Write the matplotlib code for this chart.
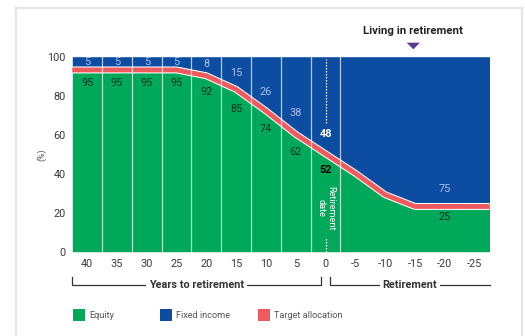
import matplotlib
matplotlib.use("Agg")
import matplotlib.pyplot as plt
import matplotlib.patheffects as pe
from matplotlib.patches import Rectangle, Polygon
from matplotlib.lines import Line2D
from matplotlib.transforms import blended_transform_factory

plt.rcParams["font.family"] = ["Roboto", "DejaVu Sans"]

# Glide path: years to retirement (negative = years after retirement)
years = [40, 35, 30, 25, 20, 15, 10, 5, 0, -5, -10, -15, -20, -25]
equity = [95, 95, 95, 95, 92, 85, 74, 62, 52, 42, 31, 25, 25, 25]
fixed_income = [5, 5, 5, 5, 8, 15, 26, 38, 48, 58, 69, 75, 75, 75]

# Which points carry value labels
labelled_years = [40, 35, 30, 25, 20, 15, 10, 5, 0, -20]
bold_label_years = [0]

# Label placement relative to the equity boundary (percentage points)
fi_label_offset = [2.5, 2.5, 2.5, 2.5, 4.3, 6.8, 8.1, 8.9, 8.2, 7.0]
eq_label_offset = [8.3, 8.3, 8.3, 8.3, 9.9, 11.6, 11.3, 11.1, 10.3, 7.3]

x_tick_values = [40, 35, 30, 25, 20, 15, 10, 5, 0, -5, -10, -15, -20, -25]
x_tick_labels = ["40", "35", "30", "25", "20", "15", "10", "5", "0",
                 "-5", "-10", "-15", "-20", "-25"]
y_tick_values = [0, 20, 40, 60, 80, 100]

GREEN = "#00a85a"
BLUE = "#0d4da1"
RED = "#ef5a5f"
PURPLE = "#5b3d8c"
EQ_TEXT = "#0c3326"
FI_TEXT = "#a9c3ec"
GREY_TEXT = "#3a3a3a"

W, H = 525, 336
fig = plt.figure(figsize=(W / 100, H / 100), dpi=100)
fig.patch.set_facecolor("white")


def fx(px):
    return px / W


def fy(py):
    return 1 - py / H


ax = fig.add_axes([fx(72.3), fy(251.7), fx(489.5) - fx(72.3), fy(56.7) - fy(251.7)])
x_left, x_right = 42.5, -27.5
ax.set_xlim(x_left, x_right)
ax.set_ylim(0, 100)

# Areas extend flat to the plot edges
xs = [x_left] + years + [x_right]
eq = [equity[0]] + equity + [equity[-1]]
ax.fill_between(xs, eq, 100, color=BLUE, lw=0, zorder=1)
ax.fill_between(xs, 0, eq, color=GREEN, lw=0, zorder=1)

# Target allocation band just beneath the boundary
ax.plot(xs, [v - 1.8 for v in eq], color=RED, lw=3.5, solid_capstyle="butt",
        solid_joinstyle="round", zorder=3,
        path_effects=[pe.Stroke(linewidth=5.0, foreground="white"), pe.Normal()])

# Column separators
for b in [37.5, 32.5, 27.5, 22.5, 17.5, 12.5, 7.5, 2.5, -2.5]:
    ax.axvline(b, color="white", alpha=0.7, lw=0.9, zorder=5)

# Dotted retirement-date marker
ax.plot([0, 0], [66, 99], color="white", lw=0.9, ls=(0, (1.2, 1.2)), zorder=5)
ax.plot([0, 0], [0, 7], color="white", lw=0.9, ls=(0, (1.2, 1.2)), zorder=5)
ax.text(0, 22.3, "Retirement\ndate", rotation=270, color="white", fontsize=6.6,
        ha="center", va="center", linespacing=1.1, zorder=6)

# Value labels
for i, yr in enumerate(labelled_years):
    k = years.index(yr)
    bold = yr in bold_label_years
    ax.text(yr, equity[k] + fi_label_offset[i], str(fixed_income[k]),
            color="white" if bold else FI_TEXT, fontsize=7.8,
            fontweight="bold" if bold else "normal",
            ha="center", va="center", zorder=6)
    ax.text(yr, equity[k] - eq_label_offset[i], str(equity[k]),
            color="black" if bold else EQ_TEXT, fontsize=7.8,
            fontweight="bold" if bold else "normal",
            ha="center", va="center", zorder=6)

ax.set_xticks(x_tick_values)
ax.set_xticklabels(x_tick_labels)
ax.set_yticks(y_tick_values)
ax.tick_params(length=0, labelsize=7.8, colors=GREY_TEXT)
ax.tick_params(axis="y", pad=4.6)
ax.tick_params(axis="x", pad=5.6)
for s in ax.spines.values():
    s.set_visible(False)

fig.text(fx(41.7), fy(155), "(%)", rotation=90, fontsize=6.3, color="#555555",
         ha="center", va="center")

# Period brackets under the axis
tr = blended_transform_factory(ax.transData, ax.transAxes)
y_line = (251.7 - 285) / 195
y_tick = (251.7 - 277) / 195
brackets = [
    ([42.5, 42.5, 0.85, 0.85], [y_tick, y_line, y_line, y_tick], "Years to retirement"),
    ([-0.7, -0.7, -27.5], [y_tick, y_line, y_line], "Retirement"),
]
for bx, by, label in brackets:
    ax.add_line(Line2D(bx, by, transform=tr, color="#333333", lw=0.9, clip_on=False))
    ax.text((bx[0] + bx[-1]) / 2, y_line, label, transform=tr, ha="center",
            va="center", fontsize=7.8, fontweight="bold", color="#333333", zorder=7,
            bbox=dict(boxstyle="square,pad=0.25", fc="white", ec="none"))

# Heading over the retirement phase
fig.text(fx(413), fy(31.5), "Living in retirement", fontsize=8.2,
         fontweight="bold", color="#222222", ha="center", va="center")
fig.patches.append(Polygon([[fx(406.7), fy(42.7)], [fx(420), fy(42.7)],
                            [fx(413.3), fy(49.3)]], closed=True,
                           transform=fig.transFigure, fc=PURPLE, ec="none"))

# Legend
for (x0, col, label) in [(73, GREEN, "Equity"), (160, BLUE, "Fixed income"),
                         (258, RED, "Target allocation")]:
    fig.patches.append(Rectangle((fx(x0), fy(321)), fx(12), 12 / H,
                                 transform=fig.transFigure, fc=col, ec="none"))
    fig.text(fx(x0 + 16), fy(315), label, fontsize=6.6, color="#555555",
             ha="left", va="center")

# Page frame
for xy in [([16, 16], [8, 336]), ([16, 522], [8, 8]), ([522, 522], [8, 336])]:
    fig.lines.append(Line2D([fx(v) for v in xy[0]], [fy(v) for v in xy[1]],
                            transform=fig.transFigure, color="#e6e6e6", lw=1.6))

fig.savefig("out.png", dpi=100)
